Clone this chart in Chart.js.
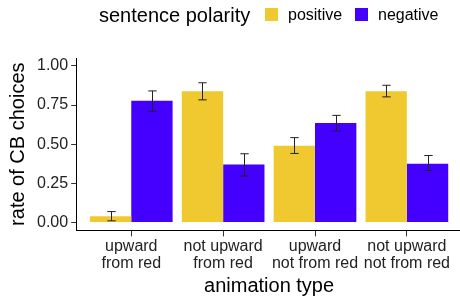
<!DOCTYPE html>
<html>
<head>
<meta charset="utf-8">
<script src="https://cdn.jsdelivr.net/npm/chart.js@4/dist/chart.umd.min.js"></script>
<style>
  html, body { margin: 0; padding: 0; background: #fff; overflow: hidden; }
  #wrap { position: relative; width: 464px; height: 298px; }
  #legend { position: absolute; left: 0; top: 0; width: 460px; height: 30px;
            font-family: "Liberation Sans", Arial, sans-serif; color: #000; }
  #legend span { position: absolute; white-space: nowrap; }
  .key { position: absolute; width: 13px; height: 13px; }
</style>
</head>
<body>
<div id="wrap">
  <canvas id="c" width="464" height="298"></canvas>
  <div id="legend">
    <span style="left:99px; top:4px; font-size:20px;">sentence polarity</span>
    <div class="key" style="left:265px; top:8px; background:#F0C930;"></div>
    <span style="left:288px; top:6px; font-size:16px;">positive</span>
    <div class="key" style="left:355px; top:8px; background:#4300FF;"></div>
    <span style="left:378px; top:6px; font-size:16px;">negative</span>
  </div>
</div>
<script>
const categories = [["upward", "from red"], ["not upward", "from red"], ["upward", "not from red"], ["not upward", "not from red"]];
const seriesNames = ["positive", "negative"];
const positive = [0.04, 0.838, 0.49, 0.838];
const negative = [0.777, 0.37, 0.635, 0.376];
const positiveLow = [0.011, 0.783, 0.441, 0.802];
const positiveHigh = [0.07, 0.892, 0.542, 0.876];
const negativeLow = [0.71, 0.297, 0.585, 0.332];
const negativeHigh = [0.84, 0.439, 0.684, 0.428];
const yTicks = [0, 0.25, 0.5, 0.75, 1];

const FONT = "'Liberation Sans', Arial, sans-serif";
const errLow = [positiveLow, negativeLow];
const errHigh = [positiveHigh, negativeHigh];

const errorBars = {
  id: 'errorBars',
  afterDatasetsDraw(chart) {
    const ctx = chart.ctx;
    const ys = chart.scales.y;
    ctx.save();
    ctx.strokeStyle = '#222';
    ctx.lineWidth = 1;
    chart.data.datasets.forEach((ds, di) => {
      const meta = chart.getDatasetMeta(di);
      meta.data.forEach((bar, j) => {
        const x = Math.round(bar.x) + 0.5;
        const y1 = ys.getPixelForValue(errLow[di][j]);
        const y2 = ys.getPixelForValue(errHigh[di][j]);
        const hw = 4.2;
        ctx.beginPath();
        ctx.moveTo(x, y1); ctx.lineTo(x, y2);
        ctx.moveTo(x - hw, y1); ctx.lineTo(x + hw, y1);
        ctx.moveTo(x - hw, y2); ctx.lineTo(x + hw, y2);
        ctx.stroke();
      });
    });
    ctx.restore();
  }
};

const toPoints = arr => arr.map((v, i) => ({ x: i + 1, y: v }));

new Chart(document.getElementById('c'), {
  type: 'bar',
  data: {
    datasets: [
      { label: seriesNames[0], data: toPoints(positive), backgroundColor: '#F0C930', borderWidth: 0 },
      { label: seriesNames[1], data: toPoints(negative), backgroundColor: '#4300FF', borderWidth: 0 }
    ]
  },
  options: {
    responsive: false,
    animation: false,
    devicePixelRatio: 1,
    categoryPercentage: 0.9,
    barPercentage: 1.0,
    layout: { padding: { top: 58, left: 6, right: 2, bottom: 0 } },
    plugins: { legend: { display: false }, tooltip: { enabled: false } },
    scales: {
      x: {
        type: 'linear',
        min: 0.4, max: 4.6,
        offset: false,
        afterBuildTicks: s => { s.ticks = categories.map((c, i) => ({ value: i + 1 })); },
        ticks: {
          callback: (v) => categories[Math.round(v) - 1],
          font: { family: FONT, size: 16, lineHeight: 1.05 },
          color: '#222', padding: 2, maxRotation: 0, autoSkip: false
        },
        grid: { drawOnChartArea: false, tickLength: 6, tickColor: '#333', offset: false },
        border: { color: '#000', width: 1 },
        title: { display: true, text: 'animation type', font: { family: FONT, size: 20 }, color: '#000', padding: { top: 0, bottom: 0 } }
      },
      y: {
        min: -0.05, max: 1.05,
        afterBuildTicks: s => { s.ticks = yTicks.map(v => ({ value: v })); },
        ticks: {
          callback: v => v.toFixed(2),
          font: { family: FONT, size: 16 },
          color: '#222', padding: 3
        },
        grid: { drawOnChartArea: false, tickLength: 5, tickColor: '#333' },
        border: { color: '#000', width: 1 },
        title: { display: true, text: 'rate of CB choices', font: { family: FONT, size: 20 }, color: '#000', padding: { top: 0, bottom: 4 } }
      }
    }
  },
  plugins: [errorBars]
});
</script>
</body>
</html>
